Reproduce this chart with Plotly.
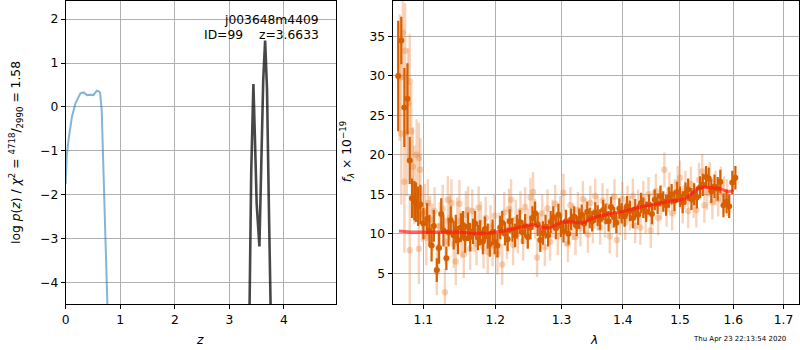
import plotly.graph_objects as go

# ---------------- left panel: log p(z) ----------------
z_pz = [0.0, 0.02, 0.055, 0.115, 0.18, 0.27, 0.33, 0.39, 0.45, 0.51, 0.57, 0.60, 0.63, 0.66, 0.69, 0.73, 0.77, 0.80]
logp_pz = [-1.75, -1.1, -0.72, -0.22, 0.09, 0.31, 0.33, 0.27, 0.28, 0.27, 0.37, 0.36, 0.33, -0.07, -1.36, -3.0, -4.5, -6.0]

z_fit = [3.33, 3.37, 3.40, 3.44, 3.47, 3.50, 3.55, 3.59, 3.62, 3.655, 3.69, 3.72, 3.75, 3.79]
logp_fit = [-7.0, -4.5, -1.5, 0.52, -0.8, -2.2, -3.17, -0.9, 0.6, 1.51, 0.4, -2.0, -4.5, -7.0]

# ---------------- right panel: spectrum ----------------
lam_dark = [
    1.067, 1.071, 1.075, 1.079, 1.082, 1.085, 1.088, 1.090, 1.093, 1.096,
    1.100, 1.105, 1.108, 1.111, 1.114, 1.118, 1.121, 1.124, 1.127, 1.131,
    1.134, 1.137, 1.141, 1.144, 1.147, 1.151, 1.154, 1.157, 1.161, 1.164,
    1.168, 1.171, 1.175, 1.178, 1.182, 1.185, 1.189, 1.192, 1.196, 1.199,
    1.203, 1.207, 1.210, 1.214, 1.218, 1.221, 1.225, 1.229, 1.232, 1.236,
    1.240, 1.244, 1.248, 1.252, 1.255, 1.259, 1.263, 1.267, 1.271, 1.275,
    1.279, 1.283, 1.287, 1.291, 1.295, 1.299, 1.303, 1.307, 1.311, 1.315,
    1.320, 1.324, 1.328, 1.332, 1.336, 1.341, 1.345, 1.349, 1.354, 1.358,
    1.362, 1.367, 1.371, 1.376, 1.380, 1.385, 1.389, 1.394, 1.398, 1.403,
    1.407, 1.412, 1.417, 1.421, 1.426, 1.431, 1.435, 1.440, 1.445, 1.450,
    1.455, 1.460, 1.465, 1.470, 1.475, 1.480, 1.485, 1.490, 1.495, 1.500,
    1.505, 1.510, 1.515, 1.521, 1.526, 1.531, 1.537, 1.542, 1.548, 1.553,
    1.558, 1.564, 1.570, 1.575, 1.581, 1.587, 1.592, 1.598, 1.604,
]
flux_dark = [
    30.0, 34.5, 26.0, 27.1, 19.3, 14.5, 14.2, 14.0, 13.5, 13.7,
    11.3, 11.9, 10.4, 8.5, 11.0, 5.4, 8.2, 12.5, 10.4, 6.9,
    10.2, 11.7, 9.8, 10.6, 9.2, 10.8, 11.1, 9.4, 10.9, 9.6,
    10.3, 11.3, 9.5, 10.1, 9.0, 10.6, 9.7, 8.7, 10.2, 9.0,
    8.5, 10.8, 11.4, 10.0, 9.3, 11.6, 10.5, 9.8, 10.9, 11.5,
    10.2, 11.0, 9.6, 10.8, 12.0, 12.6, 11.2, 9.2, 10.1, 10.9,
    9.8, 11.5, 12.1, 10.7, 12.4, 11.0, 10.3, 11.6, 10.0, 11.8,
    12.2, 11.0, 11.9, 12.4, 11.3, 12.8, 12.0, 11.6, 12.7, 12.3,
    11.8, 13.0, 12.5, 11.6, 13.4, 12.1, 11.4, 13.2, 12.6, 12.2,
    13.5, 12.9, 12.0, 13.1, 12.4, 13.9, 13.3, 12.8, 13.7, 12.5,
    14.3, 13.8, 14.8, 14.1, 13.6, 14.6, 15.0, 14.2, 15.3, 14.7,
    14.0, 15.1, 15.6, 14.4, 15.0, 14.6, 15.9, 16.2, 17.2, 17.0,
    15.4, 16.0, 15.7, 16.6, 13.6, 14.1, 13.5, 16.5, 17.1,
]
err_dark = [
    7.0, 3.0, 5.0, 4.5, 3.0, 2.5, 2.5, 2.5, 2.5, 2.5,
    2.0, 2.0, 2.0, 2.0, 2.0, 1.5, 2.0, 2.0, 2.0, 1.5,
    1.8, 1.8, 1.8, 1.8, 1.8, 1.8, 1.8, 1.8, 1.8, 1.8,
    1.6, 1.6, 1.6, 1.6, 1.6, 1.6, 1.6, 1.6, 1.6, 1.6,
    1.5, 1.5, 1.5, 1.5, 1.5, 1.5, 1.5, 1.5, 1.5, 1.5,
    1.5, 1.5, 1.5, 1.5, 1.5, 1.5, 1.5, 1.5, 1.5, 1.5,
    1.4, 1.4, 1.4, 1.4, 1.4, 1.4, 1.4, 1.4, 1.4, 1.4,
    1.3, 1.3, 1.3, 1.3, 1.3, 1.3, 1.3, 1.3, 1.3, 1.3,
    1.3, 1.3, 1.3, 1.3, 1.3, 1.3, 1.3, 1.3, 1.3, 1.3,
    1.3, 1.3, 1.3, 1.3, 1.3, 1.3, 1.3, 1.3, 1.3, 1.3,
    1.3, 1.3, 1.3, 1.3, 1.3, 1.3, 1.3, 1.3, 1.3, 1.3,
    1.4, 1.4, 1.4, 1.4, 1.4, 1.4, 1.4, 1.4, 1.4, 1.4,
    1.5, 1.5, 1.5, 1.5, 1.5, 1.5, 1.5, 1.5, 1.5,
]

lam_faint = [
    1.069, 1.071, 1.073, 1.075, 1.076, 1.078, 1.080, 1.082, 1.082, 1.084,
    1.086, 1.088, 1.091, 1.094, 1.094, 1.096, 1.098, 1.102, 1.104, 1.106,
    1.109, 1.112, 1.115, 1.118, 1.120, 1.122, 1.126, 1.129, 1.130, 1.133,
    1.136, 1.138, 1.141, 1.144, 1.146, 1.149, 1.152, 1.155, 1.158, 1.161,
    1.164, 1.167, 1.170, 1.173, 1.176, 1.179, 1.183, 1.186, 1.189, 1.193,
    1.196, 1.199, 1.203, 1.206, 1.210, 1.213, 1.217, 1.220, 1.223, 1.226,
    1.230, 1.233, 1.237, 1.241, 1.244, 1.248, 1.252, 1.256, 1.259, 1.262,
    1.266, 1.270, 1.274, 1.278, 1.282, 1.286, 1.290, 1.294, 1.298, 1.303,
    1.306, 1.310, 1.314, 1.318, 1.322, 1.326, 1.330, 1.334, 1.338, 1.342,
    1.346, 1.350, 1.354, 1.358, 1.362, 1.366, 1.370, 1.374, 1.378, 1.382,
    1.386, 1.390, 1.395, 1.399, 1.404, 1.408, 1.412, 1.417, 1.421, 1.426,
    1.430, 1.435, 1.439, 1.444, 1.448, 1.452, 1.457, 1.461, 1.466, 1.472,
    1.476, 1.481, 1.486, 1.491, 1.496, 1.500, 1.505, 1.510, 1.515, 1.520,
    1.525, 1.530, 1.535, 1.541, 1.545, 1.550, 1.555, 1.560, 1.566, 1.571,
    1.576, 1.582, 1.588,
]
flux_faint = [
    29.8, 22.7, 35.5, 16.6, 33.2, 22.8, 26.5, 29.3, 7.9, 23.0,
    18.5, 16.2, 20.0, 19.6, 8.1, 18.1, 12.5, 12.8, 9.5, 13.9,
    11.8, 10.8, 12.9, 5.2, 8.3, 11.0, 13.2, 2.6, 9.0, 14.3,
    12.0, 13.9, 8.7, 6.5, 11.6, 13.8, 9.9, 7.4, 12.4, 13.0,
    8.1, 12.9, 10.4, 8.7, 13.3, 11.4, 8.3, 12.0, 7.7, 10.9,
    8.5, 12.3, 7.4, 10.1, 6.1, 12.7, 9.4, 13.1, 14.3, 8.6,
    11.8, 10.0, 12.9, 9.1, 13.4, 10.7, 14.6, 15.3, 11.9, 7.0,
    10.3, 12.6, 8.3, 13.2, 9.0, 11.9, 13.8, 9.7, 12.4, 15.2,
    10.8, 8.7, 13.6, 11.5, 9.6, 13.0, 10.7, 14.4, 12.2, 9.9,
    13.9, 11.0, 14.8, 12.6, 10.8, 14.2, 11.7, 13.5, 9.7, 12.9,
    14.7, 9.2, 12.0, 14.4, 11.4, 13.9, 12.6, 14.8, 11.0, 13.4,
    10.8, 14.5, 12.3, 15.0, 10.4, 13.2, 15.4, 12.0, 14.0, 18.1,
    13.1, 15.6, 12.6, 14.7, 16.4, 17.1, 13.5, 15.8, 12.9, 16.3,
    14.2, 13.0, 16.8, 17.9, 13.6, 15.2, 16.9, 14.0, 15.8, 14.4,
    16.2, 15.0, 14.6,
]
err_faint = [
    8.0, 9.0, 6.0, 9.0, 6.0, 8.0, 7.0, 6.0, 7.0, 6.0,
    5.0, 5.0, 4.5, 4.5, 4.5, 4.0, 3.5, 3.5, 3.5, 3.0,
    3.0, 3.0, 3.0, 3.0, 3.0, 3.0, 3.0, 3.0, 3.0, 3.0,
    3.0, 3.0, 3.0, 3.0, 3.0, 3.0, 3.0, 3.0, 3.0, 3.0,
    2.7, 2.7, 2.7, 2.7, 2.7, 2.7, 2.7, 2.7, 2.7, 2.7,
    2.6, 2.6, 2.6, 2.6, 2.6, 2.6, 2.6, 2.6, 2.6, 2.6,
    2.5, 2.5, 2.5, 2.5, 2.5, 2.5, 2.5, 2.5, 2.5, 2.5,
    2.4, 2.4, 2.4, 2.4, 2.4, 2.4, 2.4, 2.4, 2.4, 2.4,
    2.3, 2.3, 2.3, 2.3, 2.3, 2.3, 2.3, 2.3, 2.3, 2.3,
    2.2, 2.2, 2.2, 2.2, 2.2, 2.2, 2.2, 2.2, 2.2, 2.2,
    2.2, 2.2, 2.2, 2.2, 2.2, 2.2, 2.2, 2.2, 2.2, 2.2,
    2.2, 2.2, 2.2, 2.2, 2.2, 2.2, 2.2, 2.2, 2.2, 2.2,
    2.2, 2.2, 2.2, 2.2, 2.2, 2.2, 2.2, 2.2, 2.2, 2.2,
    2.2, 2.2, 2.2, 2.2, 2.2, 2.2, 2.2, 2.2, 2.2, 2.2,
    2.3, 2.3, 2.3,
]

lam_model = [1.068, 1.08, 1.10, 1.13, 1.15, 1.17, 1.19, 1.20, 1.22, 1.235, 1.245, 1.255,
             1.265, 1.28, 1.29, 1.30, 1.315, 1.335, 1.35, 1.37, 1.39, 1.41, 1.43, 1.46,
             1.48, 1.50, 1.51, 1.52, 1.53, 1.545, 1.56, 1.575, 1.59, 1.60]
flux_model = [10.35, 10.25, 10.2, 10.2, 10.2, 10.05, 10.1, 10.2, 10.5, 10.8, 11.0, 11.15,
              10.9, 10.75, 11.1, 11.45, 11.5, 11.4, 12.0, 12.4, 12.7, 13.0, 13.4, 13.8,
              14.1, 14.25, 14.5, 15.0, 15.6, 15.9, 15.8, 15.7, 15.35, 15.5]

x_ticks_left = [0, 1, 2, 3, 4]
y_ticks_left = [-4, -3, -2, -1, 0, 1, 2]
x_ticks_right = [1.1, 1.2, 1.3, 1.4, 1.5, 1.6, 1.7]
y_ticks_right = [5, 10, 15, 20, 25, 30, 35]

assert len(lam_dark) == len(flux_dark) == len(err_dark)
assert len(lam_faint) == len(flux_faint) == len(err_faint)

W, H = 800, 350
FONT = "DejaVu Sans"
FS = 12.3
ORANGE = "rgb(215,95,0)"
ORANGE_FAINT = "rgba(230,125,50,0.33)"

fig = go.Figure()

fig.add_trace(go.Scatter(x=z_pz, y=logp_pz, mode="lines", xaxis="x", yaxis="y",
                         line=dict(color="rgba(31,119,180,0.55)", width=2), showlegend=False))
fig.add_trace(go.Scatter(x=z_fit, y=logp_fit, mode="lines", xaxis="x", yaxis="y",
                         line=dict(color="rgba(0,0,0,0.72)", width=2.6), showlegend=False))

fig.add_trace(go.Scatter(x=lam_faint, y=flux_faint, mode="markers", xaxis="x2", yaxis="y2",
                         marker=dict(color=ORANGE_FAINT, size=6.5, line=dict(width=0)),
                         error_y=dict(type="data", array=err_faint, color=ORANGE_FAINT,
                                      thickness=2.4, width=0),
                         showlegend=False))
fig.add_trace(go.Scatter(x=lam_dark, y=flux_dark, mode="markers", xaxis="x2", yaxis="y2",
                         marker=dict(color=ORANGE, size=6, line=dict(width=0)),
                         error_y=dict(type="data", array=err_dark, color=ORANGE,
                                      thickness=2.2, width=0),
                         showlegend=False))
fig.add_trace(go.Scatter(x=lam_model, y=flux_model, mode="lines", xaxis="x2", yaxis="y2",
                         line=dict(color="rgba(255,20,20,0.65)", width=3.2, shape="spline"),
                         showlegend=False))

axis_common = dict(showline=True, linecolor="black", linewidth=1, mirror=True,
                   ticks="outside", ticklen=4, tickcolor="black", tickwidth=1,
                   showgrid=True, gridcolor="#b0b0b0", gridwidth=1, zeroline=False,
                   tickfont=dict(family=FONT, size=FS, color="black"))

y0 = 1 - 304 / H
y1 = 1 - 1 / H

fig.update_layout(
    width=W, height=H,
    margin=dict(l=0, r=0, t=0, b=0),
    paper_bgcolor="white", plot_bgcolor="white",
    font=dict(family=FONT, size=FS, color="black"),
    xaxis=dict(domain=[62 / W, 334 / W], range=[0, 4.96], tickvals=x_ticks_left,
               anchor="y", **axis_common),
    yaxis=dict(domain=[y0, y1], range=[-4.48, 2.41], tickvals=y_ticks_left,
               anchor="x", **axis_common),
    xaxis2=dict(domain=[390.5 / W, 799 / W], type="log", range=[0.0252, 0.2386],
                tickvals=x_ticks_right, ticktext=[f"{v:.1f}" for v in x_ticks_right],
                anchor="y2", **axis_common),
    yaxis2=dict(domain=[y0, y1], range=[1.1, 39.5], tickvals=y_ticks_right,
                anchor="x2", **axis_common),
)

ann = [
    dict(text="j003648m4409", x=319 / W, y=1 - 20 / H, xanchor="right", yanchor="middle"),
    dict(text="ID=99", x=199 / W, y=1 - 35 / H, xanchor="left", yanchor="middle"),
    dict(text="z=3.6633", x=319 / W, y=1 - 35 / H, xanchor="right", yanchor="middle"),
    dict(text="<i>z</i>", x=197 / W, y=1 - 340 / H, xanchor="center", yanchor="middle"),
    dict(text="<i>λ</i>", x=593 / W, y=1 - 340 / H, xanchor="center", yanchor="middle"),
    dict(text="log <i>p</i>(<i>z</i>) / <i>χ</i><sup>2</sup> = <sup>4718</sup>/<sub>2990</sub> = 1.58",
         x=12 / W, y=1 - 152 / H, xanchor="center", yanchor="middle", textangle=-90),
    dict(text="<i>f</i><sub><i>λ</i></sub> × 10<sup>−19</sup>",
         x=345 / W, y=1 - 152 / H, xanchor="center", yanchor="middle", textangle=-90),
]
for a in ann:
    fig.add_annotation(xref="paper", yref="paper", showarrow=False,
                       font=dict(family=FONT, size=FS, color="black"), **a)

fig.add_annotation(xref="paper", yref="paper", showarrow=False,
                   text="Thu Apr 23 22:13:54 2020", x=788 / W, y=1 - 339 / H,
                   xanchor="right", yanchor="middle",
                   font=dict(family=FONT, size=7, color="black"))

fig.write_html(
    "out.html",
    config={"displayModeBar": False, "staticPlot": True},
    post_script=("document.documentElement.style.margin='0';"
                 "document.body.style.margin='0';document.body.style.padding='0';"
                 "document.body.style.overflow='hidden';"),
)
